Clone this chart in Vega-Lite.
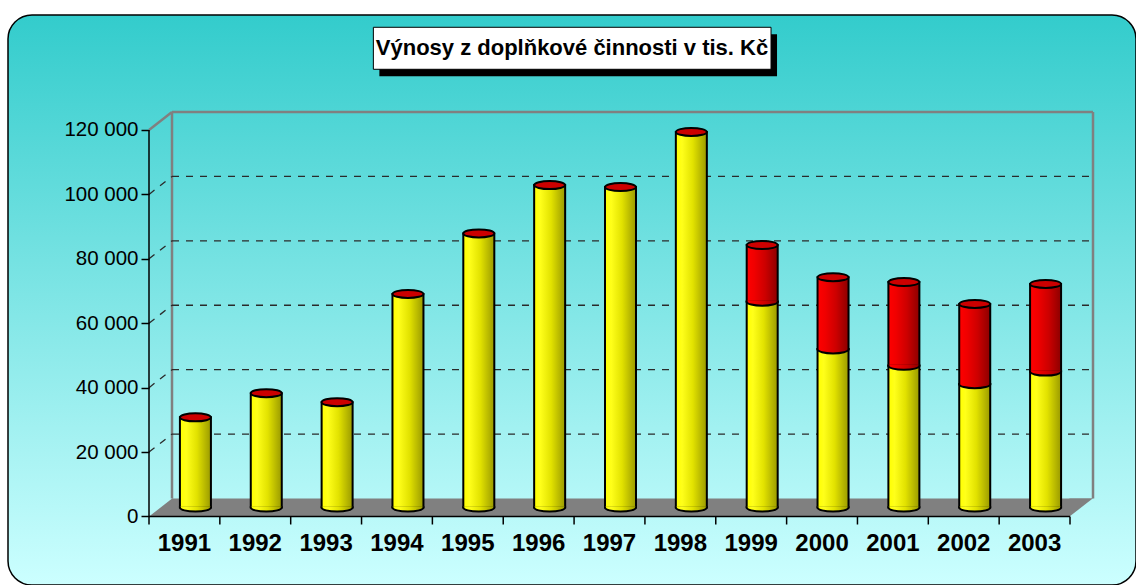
{
  "$schema": "https://vega.github.io/schema/vega-lite/v6.json",
  "width": 1128,
  "height": 570,
  "autosize": "none",
  "padding": {"left": 8, "top": 15, "right": 0, "bottom": 0},
  "background": "white",
  "title": {
    "text": "Výnosy z doplňkové činnosti v tis. Kč",
    "font": "Liberation Sans",
    "fontSize": 22,
    "fontWeight": "bold",
    "color": "black",
    "anchor": "middle",
    "frame": "group",
    "offset": -45
  },
  "datasets": {
    "rows": [
      {"rok": "1991", "spodni": 28000, "celkem": 28000},
      {"rok": "1992", "spodni": 35500, "celkem": 35500},
      {"rok": "1993", "spodni": 32700, "celkem": 32700},
      {"rok": "1994", "spodni": 66300, "celkem": 66300},
      {"rok": "1995", "spodni": 85100, "celkem": 85100},
      {"rok": "1996", "spodni": 100100, "celkem": 100100},
      {"rok": "1997", "spodni": 99500, "celkem": 99500},
      {"rok": "1998", "spodni": 116600, "celkem": 116600},
      {"rok": "1999", "spodni": 63900, "celkem": 81500},
      {"rok": "2000", "spodni": 49100, "celkem": 71500},
      {"rok": "2001", "spodni": 44000, "celkem": 70000},
      {"rok": "2002", "spodni": 38300, "celkem": 63200},
      {"rok": "2003", "spodni": 42200, "celkem": 69400}
    ],
    "grid": [{"v": 20000}, {"v": 40000}, {"v": 60000}, {"v": 80000}, {"v": 100000}],
    "one": [{}]
  },
  "data": {"name": "rows"},
  "layer": [
    {
      "data": {"name": "one"},
      "mark": {"type": "rect", "fill": "#808080", "xOffset": 23, "y2Offset": -18},
      "encoding": {
        "x": {
          "datum": "1991", "bandPosition": 0,
          "scale": {"domain": ["1991","1992","1993","1994","1995","1996","1997","1998","1999","2000","2001","2002","2003"], "range": [141, 1062], "paddingInner": 0, "paddingOuter": 0},
          "axis": {"orient": "bottom", "offset": -68.5, "bandPosition": 0.5, "title": null, "domain": false, "ticks": false, "labelFont": "Liberation Sans", "labelFontSize": 24, "labelFontWeight": "bold", "labelColor": "black", "labelPadding": 15, "labelAngle": 0, "labelAlign": "center", "labelBaseline": "top", "grid": false}
        },
        "x2": {"datum": "2003", "bandPosition": 1},
        "y": {
          "datum": 0,
          "scale": {"domain": [-21268, 155705], "nice": false, "zero": false},
          "axis": {"orient": "left", "offset": -141, "title": null, "values": [0, 20000, 40000, 60000, 80000, 100000, 120000], "domain": false, "ticks": true, "tickSize": 8, "tickColor": "black", "tickWidth": 1.5, "labelFont": "Liberation Sans", "labelFontSize": 20.5, "labelColor": "black", "labelPadding": 3, "labelAlign": "right", "labelBaseline": "middle", "grid": false, "labelExpr": "replace(format(datum.value, ','), ',', ' ')"}
        },
        "y2": {"datum": 0}
      }
    },
    {
      "data": {"name": "one"},
      "mark": {"type": "point", "filled": true, "opacity": 1, "size": 2116, "fill": "#808080", "strokeWidth": 0, "shape": "M0,0L1.02,0L1.02,-0.79Z"},
      "encoding": {
        "x": {"datum": "1991", "bandPosition": 0},
        "y": {"datum": 0}
      }
    },
    {
      "data": {"name": "one"},
      "mark": {"type": "point", "filled": true, "opacity": 1, "size": 2116, "fill": "#808080", "strokeWidth": 0, "shape": "M-0.02,0L1,-0.79L-0.02,-0.79Z"},
      "encoding": {
        "x": {"datum": "2003", "bandPosition": 1},
        "y": {"datum": 0}
      }
    },
    {
      "data": {"name": "one"},
      "mark": {"type": "rule", "stroke": "#808080", "strokeWidth": 2.5, "xOffset": 23, "yOffset": -18, "y2Offset": -18},
      "encoding": {
        "x": {"datum": "1991", "bandPosition": 0},
        "y": {"datum": 0},
        "y2": {"datum": 120000}
      }
    },
    {
      "data": {"name": "one"},
      "mark": {"type": "rule", "stroke": "#808080", "strokeWidth": 2.5, "xOffset": 23, "yOffset": -18, "y2Offset": -18},
      "encoding": {
        "x": {"datum": "2003", "bandPosition": 1},
        "y": {"datum": 0},
        "y2": {"datum": 120000}
      }
    },
    {
      "data": {"name": "one"},
      "mark": {"type": "rule", "stroke": "#808080", "strokeWidth": 2.5, "xOffset": 23, "x2Offset": 23, "yOffset": -18},
      "encoding": {
        "x": {"datum": "1991", "bandPosition": 0},
        "x2": {"datum": "2003", "bandPosition": 1},
        "y": {"datum": 120000}
      }
    },
    {
      "data": {"name": "one"},
      "mark": {"type": "rule", "stroke": "#808080", "strokeWidth": 2.5, "x2Offset": 23, "y2Offset": -18},
      "encoding": {
        "x": {"datum": "1991", "bandPosition": 0},
        "x2": {"datum": "1991", "bandPosition": 0},
        "y": {"datum": 120000},
        "y2": {"datum": 120000}
      }
    },
    {
      "data": {"name": "grid"},
      "mark": {"type": "rule", "stroke": "#2a2a2a", "strokeWidth": 1.3, "strokeDash": [7, 7], "xOffset": 23, "x2Offset": 23, "yOffset": -18},
      "encoding": {
        "x": {"datum": "1991", "bandPosition": 0},
        "x2": {"datum": "2003", "bandPosition": 1},
        "y": {"field": "v", "type": "quantitative", "title": null}
      }
    },
    {
      "data": {"name": "grid"},
      "mark": {"type": "rule", "stroke": "#2a2a2a", "strokeWidth": 1.3, "strokeDash": [7, 7], "x2Offset": 23, "y2Offset": -18},
      "encoding": {
        "x": {"datum": "1991", "bandPosition": 0},
        "x2": {"datum": "1991", "bandPosition": 0},
        "y": {"field": "v", "type": "quantitative", "title": null},
        "y2": {"field": "v"}
      }
    },
    {
      "mark": {
        "type": "bar", "width": 31, "xOffset": 11, "yOffset": -9, "y2Offset": -9,
        "fill": {"gradient": "linear", "x1": 0, "y1": 0, "x2": 1, "y2": 0, "stops": [{"offset": 0, "color": "#ffff00"}, {"offset": 0.2, "color": "#ffff1a"}, {"offset": 0.55, "color": "#e2e200"}, {"offset": 1, "color": "#9a9a00"}]},
        "stroke": "black", "strokeWidth": 2
      },
      "encoding": {
        "x": {"field": "rok", "type": "ordinal", "title": null},
        "y": {"field": "spodni", "type": "quantitative", "title": null},
        "y2": {"datum": 0}
      }
    },
    {
      "mark": {
        "type": "point", "filled": true, "opacity": 1, "size": 961, "xOffset": 11, "yOffset": -9,
        "shape": "M-1,-0.08L-1,0A1,0.26,0,0,0,1,0L1,-0.08",
        "fill": {"gradient": "linear", "x1": 0, "y1": 0, "x2": 1, "y2": 0, "stops": [{"offset": 0, "color": "#ffff00"}, {"offset": 0.2, "color": "#ffff1a"}, {"offset": 0.55, "color": "#e2e200"}, {"offset": 1, "color": "#9a9a00"}]},
        "stroke": "black", "strokeWidth": 2
      },
      "encoding": {
        "x": {"field": "rok", "type": "ordinal", "title": null},
        "y": {"datum": 0}
      }
    },
    {
      "transform": [{"filter": "datum.celkem > datum.spodni"}],
      "mark": {
        "type": "bar", "width": 31, "xOffset": 11, "yOffset": -9, "y2Offset": -9,
        "fill": {"gradient": "linear", "x1": 0, "y1": 0, "x2": 1, "y2": 0, "stops": [{"offset": 0, "color": "#ff0000"}, {"offset": 0.25, "color": "#f00000"}, {"offset": 0.6, "color": "#cc0000"}, {"offset": 1, "color": "#8c0000"}]},
        "stroke": "black", "strokeWidth": 2
      },
      "encoding": {
        "x": {"field": "rok", "type": "ordinal", "title": null},
        "y": {"field": "celkem", "type": "quantitative", "title": null},
        "y2": {"field": "spodni"}
      }
    },
    {
      "transform": [{"filter": "datum.celkem > datum.spodni"}],
      "mark": {
        "type": "point", "filled": true, "opacity": 1, "size": 961, "xOffset": 11, "yOffset": -9,
        "shape": "M-1,-0.08L-1,0A1,0.26,0,0,0,1,0L1,-0.08",
        "fill": {"gradient": "linear", "x1": 0, "y1": 0, "x2": 1, "y2": 0, "stops": [{"offset": 0, "color": "#ff0000"}, {"offset": 0.25, "color": "#f00000"}, {"offset": 0.6, "color": "#cc0000"}, {"offset": 1, "color": "#8c0000"}]},
        "stroke": "black", "strokeWidth": 2
      },
      "encoding": {
        "x": {"field": "rok", "type": "ordinal", "title": null},
        "y": {"field": "spodni", "type": "quantitative", "title": null}
      }
    },
    {
      "mark": {
        "type": "point", "filled": true, "opacity": 1, "size": 961, "xOffset": 11, "yOffset": -9,
        "shape": "M-1,0A1,0.26,0,1,0,1,0A1,0.26,0,1,0,-1,0Z",
        "fill": "#cc0000", "stroke": "black", "strokeWidth": 2
      },
      "encoding": {
        "x": {"field": "rok", "type": "ordinal", "title": null},
        "y": {"field": "celkem", "type": "quantitative", "title": null}
      }
    },
    {
      "data": {"name": "one"},
      "mark": {"type": "rule", "stroke": "black", "strokeWidth": 1.5},
      "encoding": {
        "x": {"datum": "1991", "bandPosition": 0},
        "y": {"datum": 0},
        "y2": {"datum": 120000}
      }
    },
    {
      "data": {"name": "one"},
      "mark": {"type": "rule", "stroke": "black", "strokeWidth": 1.5},
      "encoding": {
        "x": {"datum": "1991", "bandPosition": 0},
        "x2": {"datum": "2003", "bandPosition": 1},
        "y": {"datum": 0}
      }
    },
    {
      "mark": {"type": "rule", "stroke": "black", "strokeWidth": 1.5, "y2Offset": 8},
      "encoding": {
        "x": {"field": "rok", "type": "ordinal", "bandPosition": 0, "title": null},
        "y": {"datum": 0},
        "y2": {"datum": 0}
      }
    },
    {
      "data": {"name": "one"},
      "mark": {"type": "rule", "stroke": "black", "strokeWidth": 1.5, "y2Offset": 8},
      "encoding": {
        "x": {"datum": "2003", "bandPosition": 1},
        "y": {"datum": 0},
        "y2": {"datum": 0}
      }
    },
    {
      "data": {"name": "one"},
      "mark": {"type": "rect", "fill": "black", "xOffset": 6, "x2Offset": 6, "yOffset": 7, "y2Offset": 7},
      "encoding": {
        "x": {"datum": "1994", "bandPosition": 0.167},
        "x2": {"datum": "1999", "bandPosition": 0.78},
        "y": {"datum": 151888},
        "y2": {"datum": 138848}
      }
    },
    {
      "data": {"name": "one"},
      "mark": {"type": "rect", "fill": "white", "stroke": "black", "strokeWidth": 1},
      "encoding": {
        "x": {"datum": "1994", "bandPosition": 0.167},
        "x2": {"datum": "1999", "bandPosition": 0.78},
        "y": {"datum": 151888},
        "y2": {"datum": 138848}
      }
    }
  ],
  "config": {
    "view": {
      "fill": {"gradient": "linear", "x1": 0, "y1": 0, "x2": 0, "y2": 1, "stops": [{"offset": 0, "color": "#33cccc"}, {"offset": 1, "color": "#ccffff"}]},
      "stroke": "black",
      "strokeWidth": 1.5,
      "cornerRadius": 24
    },
    "axisX": {"domain": false, "ticks": false, "labelFont": "Liberation Sans", "labelFontSize": 24, "labelFontWeight": "bold", "labelColor": "black", "labelPadding": 15, "labelAngle": 0, "labelAlign": "center", "labelBaseline": "top", "grid": false, "bandPosition": 0.5},
    "axisY": {"domain": false, "tickSize": 8, "tickColor": "black", "tickWidth": 1.5, "labelFont": "Liberation Sans", "labelFontSize": 20.5, "labelColor": "black", "labelPadding": 3, "grid": false}
  }
}
